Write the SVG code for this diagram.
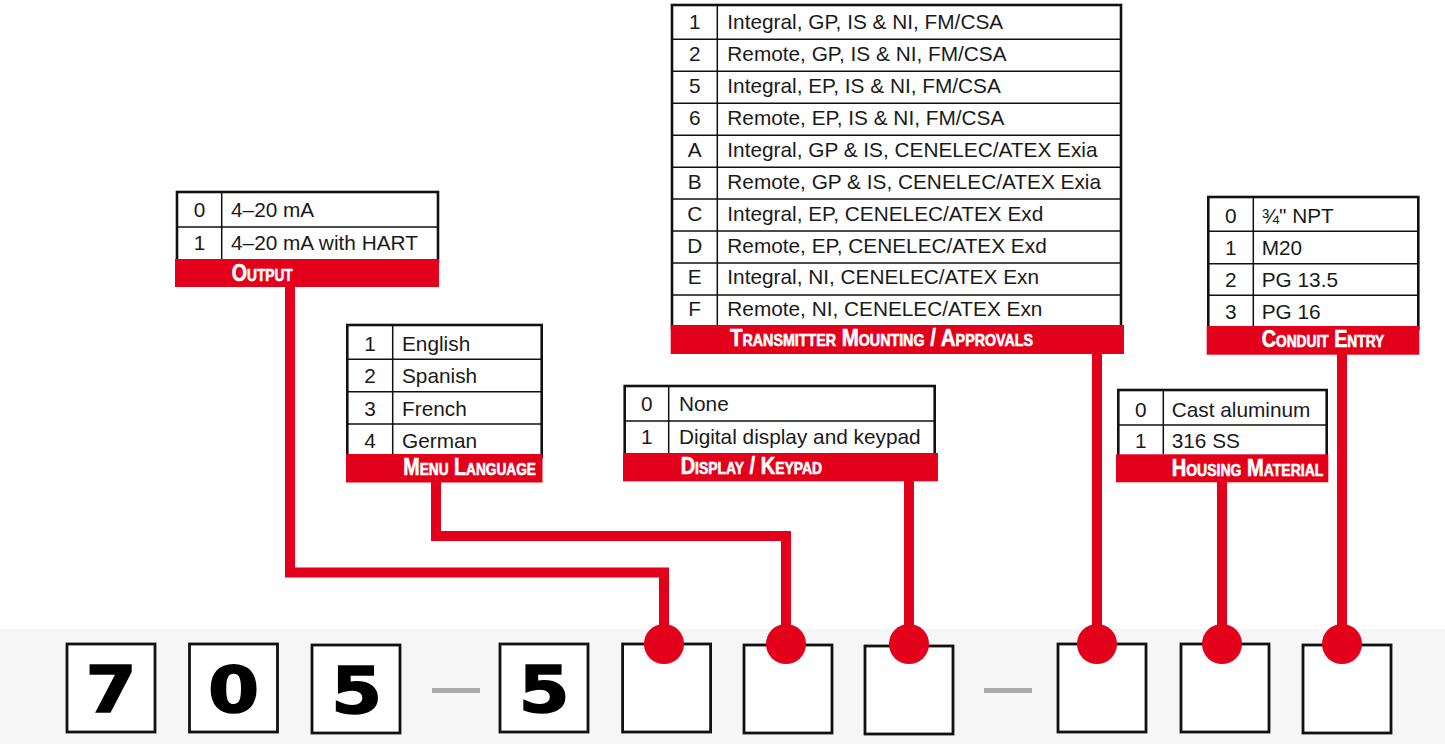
<svg xmlns="http://www.w3.org/2000/svg" width="1445" height="744" viewBox="0 0 1445 744">
<style>
.tb{fill:#fff;stroke:#111;stroke-width:2.6}
.ln{stroke:#111;stroke-width:1.5;fill:none}
.bar{fill:#e2001a}
.t{font-family:"Liberation Sans",Arial,sans-serif;font-size:20.8px;fill:#1a1a1a}
.c{text-anchor:middle}
.lb{font-family:"Liberation Sans",Arial,sans-serif;font-weight:bold;fill:#fff;stroke:#fff;stroke-width:0.6;font-size:23px;font-variant:small-caps}
.conn{fill:none;stroke:#e2001a;stroke-width:10}
.dot{fill:#e2001a}
.bx{fill:#fff;stroke:#111;stroke-width:2.8}
.dg{font-family:"DejaVu Sans",sans-serif;font-weight:bold;font-size:64px;text-anchor:middle;fill:#000;stroke:#000;stroke-width:1.5}
.dash{fill:#aaa}
</style>
<rect x="0" y="629" width="1445" height="115" fill="#f6f6f6"/>

<g id="box1"><rect class="bx" x="67" y="644" width="88" height="88"/><text class="dg" transform="translate(111,712) scale(1.15,1)">7</text></g>
<g id="box2"><rect class="bx" x="189.5" y="644" width="88" height="88"/><text class="dg" transform="translate(233.7,712) scale(1.15,1)">0</text></g>
<g id="box3"><rect class="bx" x="312" y="645" width="88" height="88"/><text class="dg" transform="translate(356.5,713) scale(1.15,1)">5</text></g>
<rect class="dash" x="432" y="688" width="48" height="5"/>
<g id="box4"><rect class="bx" x="500" y="644" width="88" height="88"/><text class="dg" transform="translate(544,712) scale(1.15,1)">5</text></g>
<g id="box5"><rect class="bx" x="622.6" y="644" width="88" height="88"/></g>
<g id="box6"><rect class="bx" x="744" y="645" width="88" height="88"/></g>
<g id="box7"><rect class="bx" x="865" y="646" width="88" height="88"/></g>
<rect class="dash" x="984" y="688" width="48" height="5"/>
<g id="box8"><rect class="bx" x="1058" y="644" width="88" height="88"/></g>
<g id="box9"><rect class="bx" x="1181" y="644" width="88" height="88"/></g>
<g id="box10"><rect class="bx" x="1303" y="645" width="88" height="88"/></g>

<g id="output">
<rect class="tb" x="177" y="192" width="261" height="70"/>
<path class="ln" d="M221.7 192V259M177 227H438"/>
<rect class="bar" x="175" y="259" width="264" height="28"/>
<text class="t c" x="199.5" y="217.3">0</text><text class="t" x="231" y="217.3">4–20 mA</text>
<text class="t c" x="199.5" y="250">1</text><text class="t" x="231" y="250">4–20 mA with HART</text>
<text class="lb" x="231.7" y="281" textLength="61" lengthAdjust="spacingAndGlyphs">Output</text>
</g>

<g id="menu-language">
<rect class="tb" x="347.3" y="325" width="194.4" height="132"/>
<path class="ln" d="M392.7 325V454M347.3 359.3H541.7M347.3 391.7H541.7M347.3 424H541.7"/>
<rect class="bar" x="346" y="454" width="196.5" height="28.5"/>
<text class="t c" x="370" y="351">1</text><text class="t" x="402" y="351">English</text>
<text class="t c" x="370" y="383.3">2</text><text class="t" x="402" y="383.3">Spanish</text>
<text class="t c" x="370" y="415.6">3</text><text class="t" x="402" y="415.6">French</text>
<text class="t c" x="370" y="447.8">4</text><text class="t" x="402" y="447.8">German</text>
<text class="lb" x="403.3" y="474.5" textLength="132.7" lengthAdjust="spacingAndGlyphs">Menu Language</text>
</g>

<g id="display-keypad">
<rect class="tb" x="624.7" y="386" width="310" height="70"/>
<path class="ln" d="M668.7 386V453M624.7 421H934.7"/>
<rect class="bar" x="623" y="453" width="315" height="28.3"/>
<text class="t c" x="646.7" y="411.3">0</text><text class="t" x="679" y="411.3">None</text>
<text class="t c" x="646.7" y="444">1</text><text class="t" x="679" y="444">Digital display and keypad</text>
<text class="lb" x="680.7" y="474" textLength="141.3" lengthAdjust="spacingAndGlyphs">Display / Keypad</text>
</g>

<g id="transmitter-mounting">
<rect class="tb" x="672" y="5" width="449" height="323"/>
<path class="ln" d="M717.3 5V325M672 39.3H1121M672 71.26H1121M672 103.22H1121M672 135.18H1121M672 167.14H1121M672 199.1H1121M672 231.06H1121M672 263.02H1121M672 294.98H1121"/>
<rect class="bar" x="670.7" y="325" width="453.3" height="29"/>
<text class="t c" x="694.7" y="28.8">1</text><text class="t" x="727.3" y="28.8">Integral, GP, IS &amp; NI, FM/CSA</text>
<text class="t c" x="694.7" y="60.76">2</text><text class="t" x="727.3" y="60.76">Remote, GP, IS &amp; NI, FM/CSA</text>
<text class="t c" x="694.7" y="92.72">5</text><text class="t" x="727.3" y="92.72">Integral, EP, IS &amp; NI, FM/CSA</text>
<text class="t c" x="694.7" y="124.68">6</text><text class="t" x="727.3" y="124.68">Remote, EP, IS &amp; NI, FM/CSA</text>
<text class="t c" x="694.7" y="156.64">A</text><text class="t" x="727.3" y="156.64">Integral, GP &amp; IS, CENELEC/ATEX Exia</text>
<text class="t c" x="694.7" y="188.6">B</text><text class="t" x="727.3" y="188.6">Remote, GP &amp; IS, CENELEC/ATEX Exia</text>
<text class="t c" x="694.7" y="220.56">C</text><text class="t" x="727.3" y="220.56">Integral, EP, CENELEC/ATEX Exd</text>
<text class="t c" x="694.7" y="252.52">D</text><text class="t" x="727.3" y="252.52">Remote, EP, CENELEC/ATEX Exd</text>
<text class="t c" x="694.7" y="284.48">E</text><text class="t" x="727.3" y="284.48">Integral, NI, CENELEC/ATEX Exn</text>
<text class="t c" x="694.7" y="316.44">F</text><text class="t" x="727.3" y="316.44">Remote, NI, CENELEC/ATEX Exn</text>
<text class="lb" x="730" y="346" textLength="303" lengthAdjust="spacingAndGlyphs">Transmitter Mounting / Approvals</text>
</g>

<g id="conduit-entry">
<rect class="tb" x="1208.3" y="197" width="210" height="132"/>
<path class="ln" d="M1253.3 197V326M1208.3 231.3H1418.3M1208.3 263.7H1418.3M1208.3 295.3H1418.3"/>
<rect class="bar" x="1206.7" y="326" width="212.6" height="28.7"/>
<text class="t c" x="1230.8" y="223">0</text><text class="t" x="1261.7" y="223">¾" NPT</text>
<text class="t c" x="1230.8" y="255.3">1</text><text class="t" x="1261.7" y="255.3">M20</text>
<text class="t c" x="1230.8" y="287">2</text><text class="t" x="1261.7" y="287">PG 13.5</text>
<text class="t c" x="1230.8" y="318.7">3</text><text class="t" x="1261.7" y="318.7">PG 16</text>
<text class="lb" x="1261.7" y="346.5" textLength="122.6" lengthAdjust="spacingAndGlyphs">Conduit Entry</text>
</g>

<g id="housing-material">
<rect class="tb" x="1118.3" y="390" width="208.4" height="67"/>
<path class="ln" d="M1163.3 390V454.3M1118.3 425H1326.7"/>
<rect class="bar" x="1116" y="454.3" width="212.3" height="28"/>
<text class="t c" x="1140.8" y="416.7">0</text><text class="t" x="1171.7" y="416.7">Cast aluminum</text>
<text class="t c" x="1140.8" y="448.3">1</text><text class="t" x="1171.7" y="448.3">316 SS</text>
<text class="lb" x="1171.7" y="475.5" textLength="151.6" lengthAdjust="spacingAndGlyphs">Housing Material</text>
</g>

<g id="connectors">
<path class="conn" d="M290 287V572.5H664V644"/>
<path class="conn" d="M436 482V536H786V644"/>
<path class="conn" d="M909 481V644"/>
<path class="conn" d="M1097 354V644"/>
<path class="conn" d="M1222 482V644"/>
<path class="conn" d="M1342 354V644"/>
<circle class="dot" cx="664" cy="644" r="20"/>
<circle class="dot" cx="786" cy="644" r="20"/>
<circle class="dot" cx="909" cy="644" r="20"/>
<circle class="dot" cx="1097" cy="644" r="20"/>
<circle class="dot" cx="1222" cy="644" r="20"/>
<circle class="dot" cx="1342" cy="644" r="20"/>
</g>
</svg>
